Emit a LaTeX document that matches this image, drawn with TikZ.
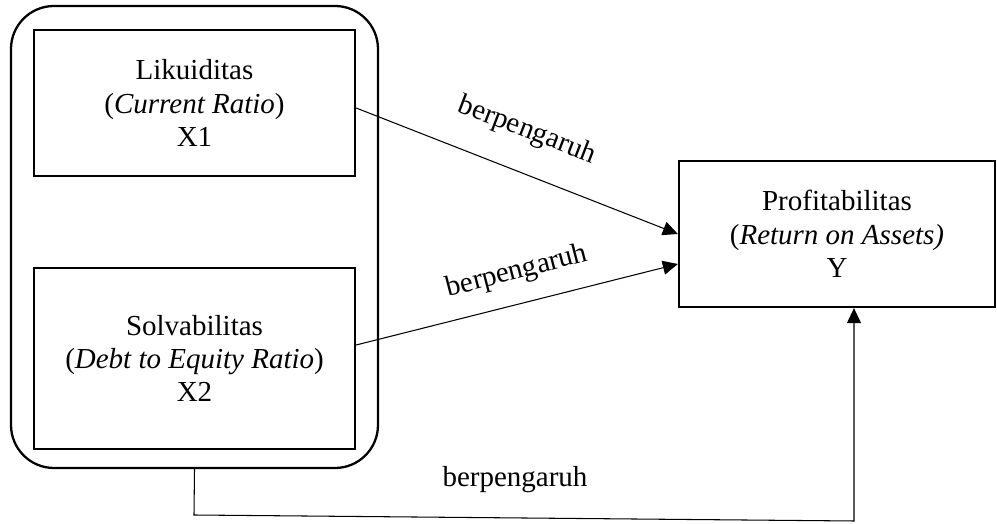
\documentclass[tikz,border=0pt]{standalone}
\usepackage{fontspec}
\setmainfont{Liberation Serif}
\usetikzlibrary{arrows.meta,positioning}

\begin{document}
\begin{tikzpicture}[
  frame/.style={draw,line width=1.3pt,rounded corners=0.86cm,minimum width=7.34cm,minimum height=9.24cm},
  varbox/.style={draw,line width=1.3pt,minimum width=6.42cm,align=center,font=\fontsize{16.5}{19}\selectfont},
  link/.style={draw,line width=0.6pt,-{Triangle[length=0.3cm,width=0.28cm]}},
  label/.style={font=\fontsize{16.5}{19}\selectfont,inner sep=0pt}
]
\useasboundingbox (0,0) rectangle (19.94,10.48);
\node[frame] (grp) at (3.89,5.74) {};
\node[varbox,minimum height=2.92cm] (lik) at (3.89,8.42) {Likuiditas\\(\textit{Current Ratio})\\X1};
\node[varbox,minimum height=3.62cm] (solv) at (3.89,3.31) {Solvabilitas\\(\textit{Debt to Equity Ratio})\\X2};
\node[varbox,minimum width=6.32cm,minimum height=2.92cm] (prof) at (16.74,5.80) {Profitabilitas\\(\textit{Return on Assets)}\\Y};
\coordinate (bendL) at (3.88,0.18);
\coordinate (bendR) at (17.08,0.06);
\draw[link] ([yshift=-0.1cm]lik.east) -- (prof.west);
\draw[link] ([yshift=0.27cm]solv.east) -- ([yshift=-0.6cm]prof.west);
\draw[link] (grp.south) -- (bendL) -- (bendR) -- (bendR |- prof.south);
\node[label,rotate=-21] (l1) at (10.54,7.86) {berpengaruh};
\node[label,rotate=14.5] (l2) at (10.34,5.04) {berpengaruh};
\node[label] (l3) at (10.30,0.88) {berpengaruh};
\end{tikzpicture}
\end{document}
